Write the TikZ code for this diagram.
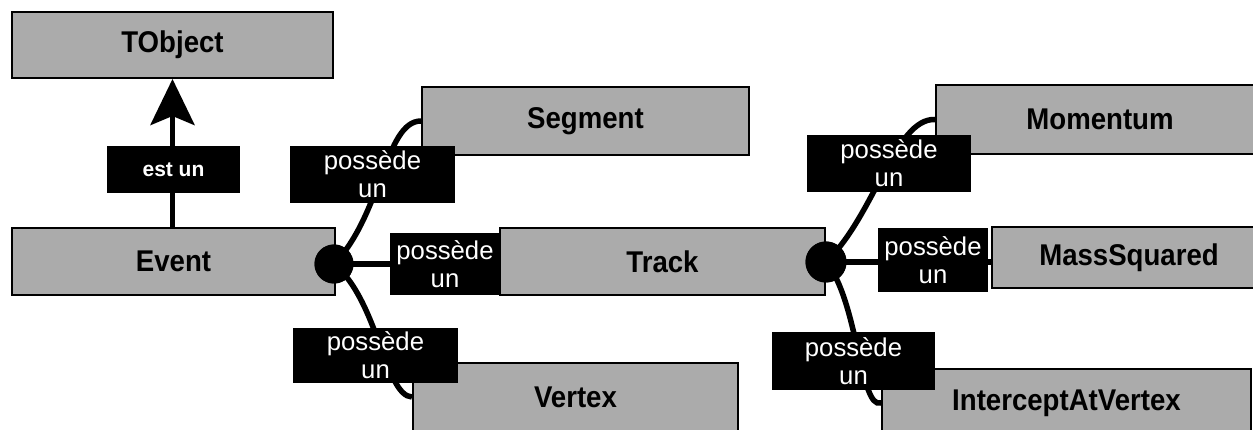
\documentclass[tikz,border=0pt]{standalone}
\usepackage{fontspec}
\setmainfont{Liberation Sans}
\newfontfamily\boxfont[FakeStretch=0.92]{Liberation Sans Bold}
\usetikzlibrary{arrows.meta}
\tikzset{
  classbox/.style={draw=black, line width=2pt, fill=black!33, inner sep=0pt,
    font=\boxfont\fontsize{30}{32}\selectfont, text=black},
  relbox/.style={fill=black, text=white, inner sep=0pt, align=center,
    font=\fontsize{25.7}{28}\selectfont},
  isabox/.style={fill=black, text=white, inner sep=0pt,
    font=\bfseries\fontsize{21}{24}\selectfont},
  link/.style={line width=5.5pt, draw=black},
  hub/.style={circle, fill=black, inner sep=0pt},
}
\begin{document}
\begin{tikzpicture}[x=1pt,y=-1pt]
\useasboundingbox (0,0) rectangle (1253,430);
\clip (0,0) rectangle (1253,430);
\fill[white] (0,0) rectangle (1253,430);
% class boxes
\node[classbox, minimum width=321pt, minimum height=66pt] (tobj) at (172.5,45) {TObject};
\node[classbox, minimum width=323pt, minimum height=67pt] (event) at (173.5,261.5) {Event};
\node[classbox, minimum width=327pt, minimum height=68pt] (seg) at (585.5,121) {Segment};
\node[classbox, minimum width=325pt, minimum height=67pt] (track) at (662.5,261.5) {Track};
\node[classbox, minimum width=325pt, minimum height=68pt] (vtx) at (575.5,397) {Vertex};
\node[classbox, minimum width=328pt, minimum height=69pt] (mom) at (1100,119.5) {Momentum};
\node[classbox, minimum width=274pt, minimum height=61pt] (mass) at (1129,257.5) {MassSquared};
\node[classbox, minimum width=369pt, minimum height=68pt] (icpt) at (1066.5,403) {InterceptAtVertex};
% hubs
\node[hub, minimum size=39pt] (d1) at (334,264) {};
\node[hub, minimum size=41pt] (d2) at (826,262) {};
% connectors
\draw[link, -{Stealth[length=46pt,width=44pt,inset=9pt]}] (event.north -| tobj.south) -- (tobj.south);
\draw[link] (d1.center) -- (d1.center -| track.west);
\draw[link] (d1.center) .. controls (382,215) and (385,121) .. (seg.west);
\draw[link] (d1.center) .. controls (378,300) and (385,396) .. (vtx.west);
\draw[link] (d2.center) -- (d2.center -| mass.west);
\draw[link] (d2.center) .. controls (875,215) and (895,118) .. (mom.west);
\draw[link] (d2.center) .. controls (858,300) and (860,410) .. (icpt.west);
% hubs again on top
\node[hub, minimum size=39pt] at (d1) {};
\node[hub, minimum size=41pt] at (d2) {};
% labels
\node[isabox, minimum width=133pt, minimum height=47pt] (l1) at (173.5,169.5) {est un};
\node[relbox, minimum width=165pt, minimum height=57pt] (l2) at (372.5,174.5) {possède\\un};
\node[relbox, minimum width=110pt, minimum height=62pt] (l3) at (445,264) {possède\\un};
\node[relbox, minimum width=165pt, minimum height=55pt] (l4) at (375.5,355.5) {possède\\un};
\node[relbox, minimum width=164pt, minimum height=57pt] (l5) at (889,163.5) {possède\\un};
\node[relbox, minimum width=110pt, minimum height=64pt] (l6) at (933,260) {possède\\un};
\node[relbox, minimum width=163pt, minimum height=58pt] (l7) at (853.5,361) {possède\\un};
\end{tikzpicture}
\end{document}
